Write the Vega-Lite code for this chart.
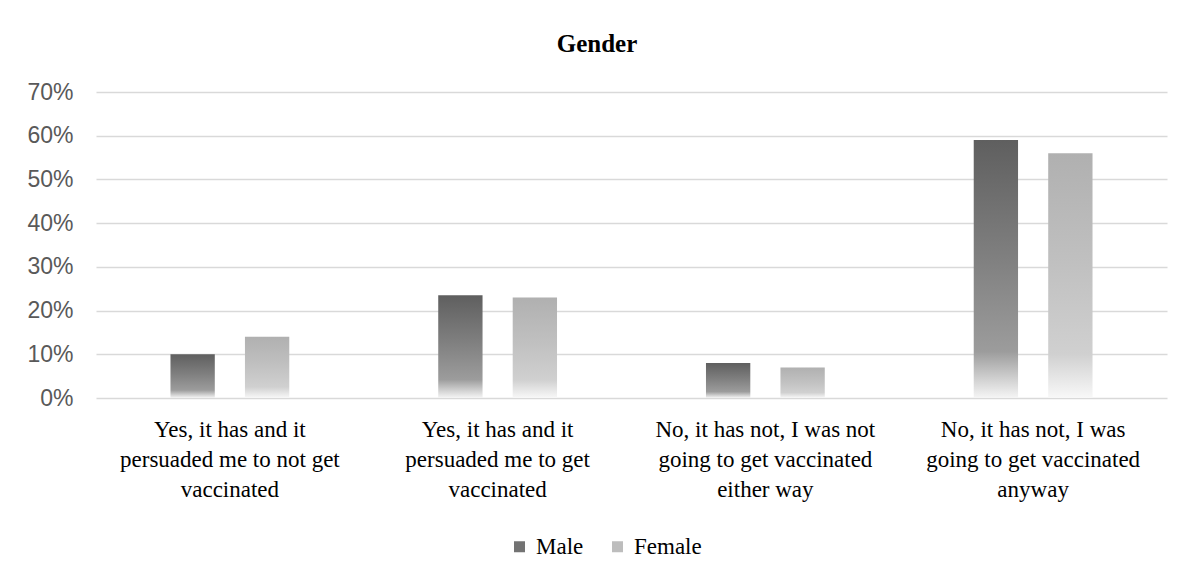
{
  "$schema": "https://vega.github.io/schema/vega-lite/v6.json",
  "width": 1071,
  "height": 306,
  "autosize": {"type": "none"},
  "padding": {"left": 96, "top": 92, "right": 21, "bottom": 182},
  "background": "white",
  "title": {
    "text": "Gender",
    "font": "Liberation Serif",
    "fontSize": 25,
    "fontWeight": "bold",
    "color": "#000000",
    "anchor": "middle",
    "frame": "bounds",
    "offset": 24
  },
  "data": {
    "values": [
      {"answer": "Yes, it has and it|persuaded me to not get|vaccinated", "gender": "Male", "share": 0.10},
      {"answer": "Yes, it has and it|persuaded me to not get|vaccinated", "gender": "Female", "share": 0.14},
      {"answer": "Yes, it has and it|persuaded me to get|vaccinated", "gender": "Male", "share": 0.235},
      {"answer": "Yes, it has and it|persuaded me to get|vaccinated", "gender": "Female", "share": 0.23},
      {"answer": "No, it has not, I was not|going to get vaccinated|either way", "gender": "Male", "share": 0.08},
      {"answer": "No, it has not, I was not|going to get vaccinated|either way", "gender": "Female", "share": 0.07},
      {"answer": "No, it has not, I was|going to get vaccinated|anyway", "gender": "Male", "share": 0.59},
      {"answer": "No, it has not, I was|going to get vaccinated|anyway", "gender": "Female", "share": 0.56}
    ]
  },
  "encoding": {
    "x": {
      "field": "answer",
      "type": "nominal",
      "sort": null,
      "title": null,
      "scale": {"paddingInner": 0, "paddingOuter": 0},
      "axis": {
        "labelAngle": 0,
        "labelExpr": "split(datum.label, '|')",
        "labelFont": "Liberation Serif",
        "labelFontSize": 23,
        "labelLineHeight": 30,
        "labelColor": "#000000",
        "labelPadding": 20,
        "labelLimit": 0,
        "domain": false,
        "ticks": false,
        "grid": false
      }
    },
    "xOffset": {
      "field": "gender",
      "type": "nominal",
      "sort": ["Male", "Female"],
      "scale": {"paddingInner": 0.405, "paddingOuter": 1.012}
    },
    "y": {
      "field": "share",
      "type": "quantitative",
      "title": null,
      "scale": {"domain": [0, 0.7]},
      "axis": {
        "values": [0, 0.1, 0.2, 0.3, 0.4, 0.5, 0.6, 0.7],
        "format": ".0%",
        "labelFont": "Liberation Sans",
        "labelFontSize": 23,
        "labelColor": "#595959",
        "labelPadding": 23,
        "domain": false,
        "ticks": false,
        "gridColor": "#d9d9d9",
        "gridWidth": 1.3
      }
    }
  },
  "layer": [
    {
      "mark": {"type": "bar"},
      "encoding": {
        "fill": {
          "condition": {
            "test": "datum.gender === 'Male'",
            "value": {
              "gradient": "linear",
              "x1": 0, "y1": 0, "x2": 0, "y2": 1,
              "stops": [
                {"offset": 0, "color": "#5f5f5f"},
                {"offset": 0.45, "color": "#7f7f7f"},
                {"offset": 0.82, "color": "#9c9c9c"},
                {"offset": 1, "color": "#f5f5f5"}
              ]
            }
          },
          "value": {
            "gradient": "linear",
            "x1": 0, "y1": 0, "x2": 0, "y2": 1,
            "stops": [
              {"offset": 0, "color": "#b0b0b0"},
              {"offset": 0.45, "color": "#c0c0c0"},
              {"offset": 0.82, "color": "#d0d0d0"},
              {"offset": 1, "color": "#f8f8f8"}
            ]
          }
        }
      }
    },
    {
      "mark": {"type": "bar", "opacity": 0},
      "encoding": {
        "color": {
          "field": "gender",
          "type": "nominal",
          "sort": ["Male", "Female"],
          "scale": {"domain": ["Male", "Female"], "range": ["#737373", "#bdbdbd"]},
          "legend": {
            "title": null,
            "orient": "none",
            "legendX": 412,
            "legendY": 443,
            "direction": "horizontal",
            "symbolType": "square",
            "symbolSize": 121,
            "symbolOpacity": 1,
            "symbolStrokeWidth": 0,
            "labelFont": "Liberation Serif",
            "labelFontSize": 23,
            "labelColor": "#000000",
            "labelOffset": 5,
            "columnPadding": 22
          }
        }
      }
    }
  ],
  "config": {
    "view": {"stroke": null}
  }
}
